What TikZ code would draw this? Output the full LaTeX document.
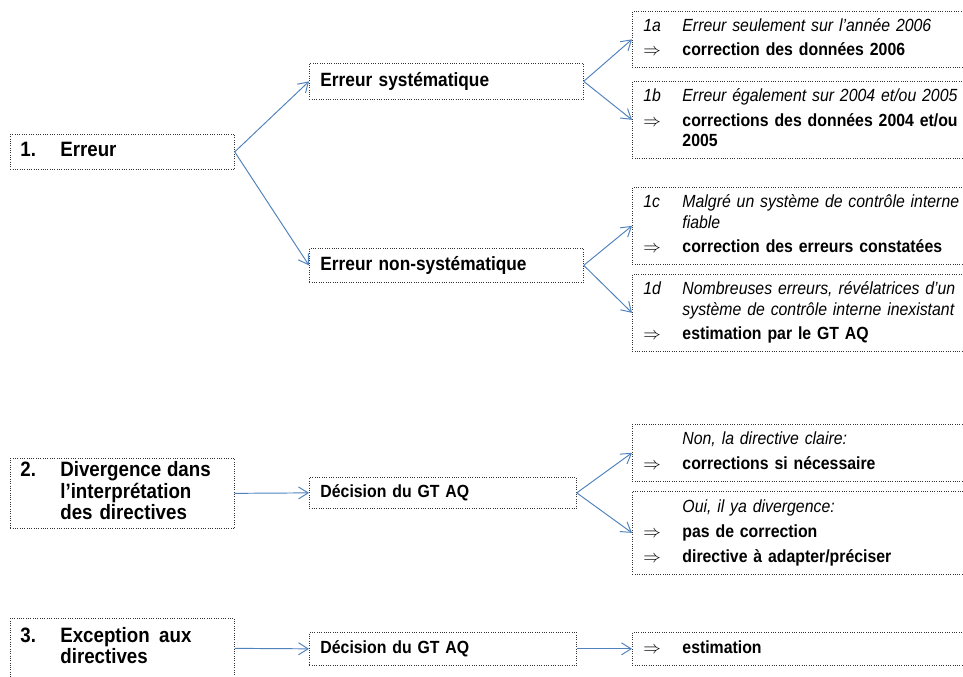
\documentclass[tikz,border=0pt]{standalone}
\usepackage{fontspec}
\setmainfont{Liberation Sans}[FakeStretch=0.9]
\usepackage{tikz}
\usetikzlibrary{arrows.meta}

\definecolor{arrowblue}{RGB}{79,129,189}
\newcommand{\rtab}[1]{\begin{tabular}{@{}p{24.4pt}@{}p{176pt}@{}}#1\end{tabular}}
\newcommand{\ltab}[1]{\begin{tabular}{@{}p{25pt}@{}p{94pt}@{}}#1\end{tabular}}

\tikzset{
  box/.style={rectangle, draw=black!80, densely dotted, line width=0.45pt,
    anchor=north west, inner ysep=0pt, align=left},
  lbox/.style={box, minimum width=140pt, inner xsep=6.25pt, text width=127.5pt,
    font=\fontsize{13}{11.9}\selectfont\bfseries},
  mbox/.style={box, minimum width=171.25pt, inner xsep=6.9pt, text width=157.4pt,
    font=\fontsize{12}{14}\selectfont\bfseries},
  dbox/.style={box, minimum width=166.9pt, inner xsep=6.9pt, text width=153pt,
    font=\fontsize{11}{13}\selectfont\bfseries},
  rbox/.style={box, minimum width=214.4pt, inner xsep=6.9pt, text width=200.6pt,
    font=\fontsize{11}{13.1}\selectfont},
  arr/.style={draw=arrowblue, line width=0.6pt, -{Straight Barb[length=6pt,width=7.5pt]}}
}

\begin{document}
\begin{tikzpicture}[x=0.625pt,y=-0.625pt]
\useasboundingbox (0,0) rectangle (963,677);
\clip (0,0) rectangle (963,677);

\node[lbox, minimum height=21.9pt] (e1) at (10,134) {\ltab{1.&Erreur}};
\node[mbox, minimum height=22.5pt] (sys) at (309,63) {Erreur systématique};
\node[mbox, minimum height=21.25pt] (nsys) at (309,248) {Erreur non-systématique};

\node[rbox, minimum height=35pt] (c1a) at (632,11) {\rtab{%
  \textit{1a}&\textit{Erreur seulement sur l’année 2006}\\[2pt]
  $\Rightarrow$&\textbf{correction des données 2006}}};
\node[rbox, minimum height=48.1pt] (c1b) at (632,81) {\rtab{%
  \textit{1b}&\textit{Erreur également sur 2004 et/ou 2005}\\[2.5pt]
  $\Rightarrow$&\textbf{corrections des données 2004 et/ou\newline 2005}}};
\node[rbox, minimum height=48.1pt] (c1c) at (632,187) {\rtab{%
  \textit{1c}&\textit{Malgré un système de contrôle interne\newline fiable}\\[2.5pt]
  $\Rightarrow$&\textbf{correction des erreurs constatées}}};
\node[rbox, minimum height=48.1pt] (c1d) at (632,274) {\rtab{%
  \textit{1d}&\textit{Nombreuses erreurs, révélatrices d’un\newline système de contrôle interne inexistant}\\[2.5pt]
  $\Rightarrow$&\textbf{estimation par le GT AQ}}};

\node[lbox, minimum height=43.75pt] (e2) at (10,458) {\ltab{2.&Divergence\hfill dans\newline l’interprétation\newline des directives}};
\node[dbox, minimum height=19.4pt] (dec2) at (309,477) {Décision du GT AQ};
\node[rbox, minimum height=35.6pt] (non) at (632,424) {\rtab{%
  &\textit{Non, la directive claire:}\\[2.5pt]
  $\Rightarrow$&\textbf{corrections si nécessaire}}};
\node[rbox, minimum height=51.9pt] (oui) at (632,491) {\rtab{%
  &\textit{Oui, il ya divergence:}\\[2.5pt]
  $\Rightarrow$&\textbf{pas de correction}\\[2.5pt]
  $\Rightarrow$&\textbf{directive à adapter/préciser}}};

\node[lbox, minimum height=37.5pt] (e3) at (10,618) {\fontsize{13}{13.1}\selectfont\ltab{3.&Exception\hspace{0.45em}aux\newline directives}};
\node[dbox, minimum height=20.6pt] (dec3) at (309,632) {Décision du GT AQ};
\node[rbox, minimum height=20.6pt] (est) at (632,632) {\rtab{$\Rightarrow$&\textbf{estimation}}};

\foreach \a/\b in {e1/sys, e1/nsys, sys/c1a, sys/c1b, nsys/c1c, nsys/c1d,
                   e2/dec2, dec2/non, dec2/oui, e3/dec3, dec3/est}
  \draw[arr] (\a.east) -- (\b.west);
\end{tikzpicture}
\end{document}
